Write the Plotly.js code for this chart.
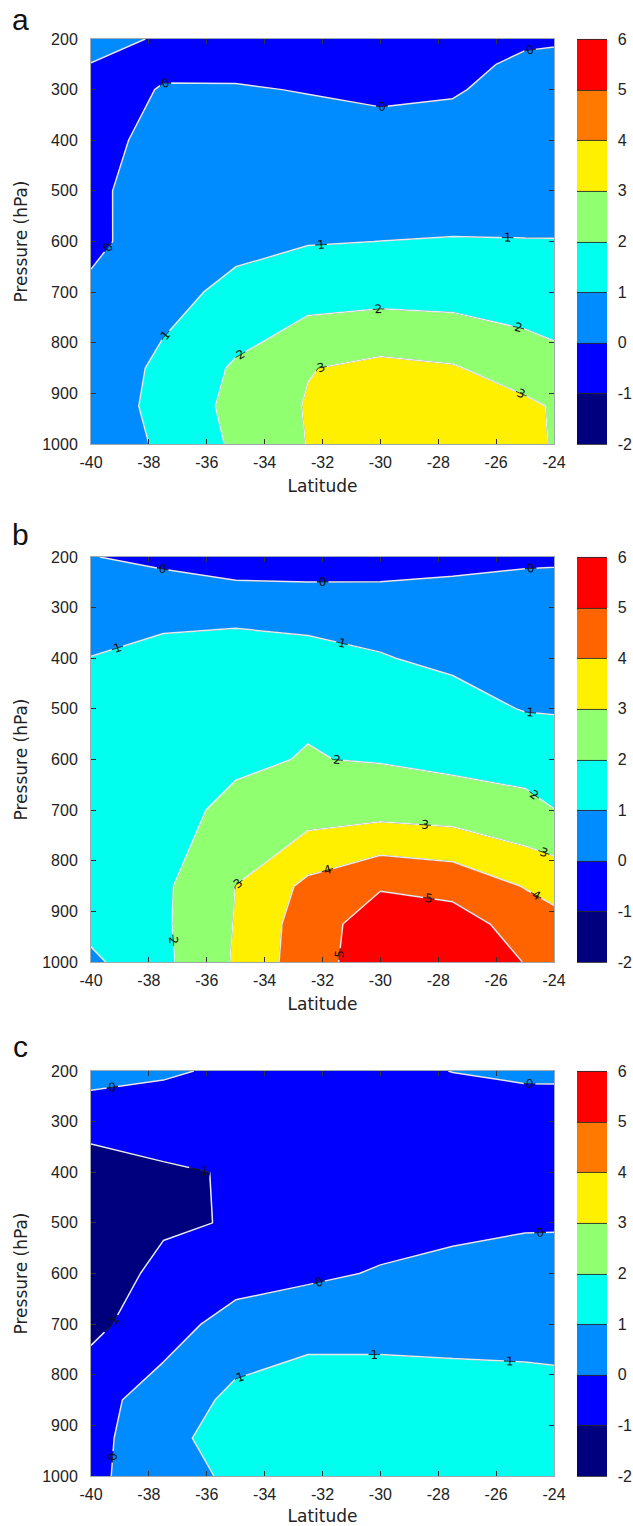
<!DOCTYPE html>
<html><head><meta charset="utf-8">
<script src="https://cdn.plot.ly/plotly-3.0.1.min.js"></script>
<style>html,body{margin:0;padding:0;background:#fff}#chart{width:633px;height:1526px}</style>
</head><body><div id="chart"></div><script>
// grid
const latitude = [-40, -37.5, -35, -32.5, -30, -27.5, -25, -22.5];
const pressure = [200, 250, 300, 400, 500, 600, 700, 850, 925, 1000];

// panel a values (rows = pressure, columns = latitude)
const panelA = [
  [0.3, -0.1, -0.5, -0.6, -0.7, -0.8, -0.227, -0.05],
  [-0.02, -0.117, -0.25, -0.4, -0.5, -0.4, 0.267, 0.5],
  [-0.3, 0.041, 0.08, -0.045, -0.3, -0.1, 0.4, 0.5],
  [-0.4, 0.37, 0.5, 0.455, 0.58, 0.456, 0.5, 0.6],
  [-0.2, 0.47, 0.65, 0.7, 0.6, 0.6, 0.6, 0.65],
  [-0.3, 0.7, 0.8, 0.95, 1.005, 1.044, 1.03, 1.02],
  [0.25, 0.75, 1.2, 1.575, 1.649, 1.608, 1.5, 1.3],
  [0.5, 1.167, 2.13, 2.96, 3.244, 3.078, 2.527, 2.1],
  [0.6, 1.206, 2.31, 3.067, 3.6, 3.5, 3.184, 2.527],
  [0.6, 1.1, 2.17, 3.03, 3.6, 3.4, 3.15, 2.68]
];
// panel b values
const panelB = [
  [0.05, -0.367, -0.5, -0.6, -0.6, -0.5, -0.2, -0.15],
  [0.3, 0.398, 0.043, 0.01, 0.012, 0.158, 0.235, 0.3],
  [0.5, 0.7, 0.8, 0.7, 0.6, 0.5, 0.45, 0.5],
  [1.02, 1.288, 1.288, 1.245, 1.055, 0.8, 0.7, 0.7],
  [1.2, 1.5, 1.6, 1.933, 1.4, 1.388, 0.947, 0.85],
  [1.3, 1.7, 1.903, 2.03, 1.943, 1.765, 1.8, 1.6],
  [1.35, 1.8, 2.14, 2.55, 2.652, 2.522, 2.15, 1.8],
  [1.4, 1.837, 3.01, 4.236, 4.92, 4.696, 3.95, 3.3],
  [1.3, 1.857, 3.048, 4.535, 5.5, 5.43, 4.6, 3.9],
  [0.8, 1.79, 3.106, 4.596, 5.55, 5.5, 4.98, 4.3]
];
// panel c values
const panelC = [
  [0.25, 0.15, -0.207, -0.5, -0.4, 0.0255, 0.3, 0.3],
  [-0.08, -0.267, -0.5, -0.6, -0.6, -0.4, -0.3, -0.25],
  [-0.7, -0.624, -0.8, -0.7, -0.7, -0.7, -0.5, -0.5],
  [-1.382, -1.1, -0.944, -0.8, -0.7, -0.6, -0.4, -0.35],
  [-1.5, -1.1, -0.953, -0.7, -0.4, -0.3, -0.1, -0.08],
  [-1.4, -0.814, -0.3, -0.2, 0.082, 0.352, 0.4, 0.4],
  [-1.3, -0.3, 0.277, 0.709, 0.7, 0.7, 0.7, 0.7],
  [-0.229, 0.3, 1.281, 1.4365, 1.45, 1.362, 1.3, 1.2],
  [-0.2, 0.425, 1.86, 1.7, 1.7, 1.5, 1.4, 1.3],
  [-0.15, 0.386, 1.263, 1.6, 1.7, 1.5, 1.4, 1.3]
];
const colorTicks = [-2, -1, 0, 1, 2, 3, 4, 5, 6];
const latTicks = [-40, -38, -36, -34, -32, -30, -28, -26, -24];
const presTicks = [200, 300, 400, 500, 600, 700, 800, 900, 1000];
const panelLetters = ['a', 'b', 'c'];

// one colour per 1-unit band from -2 to 6
function scale(orange) {
  const cols = ['#00007f', '#0000ff', '#008cff', '#00ffee', '#90ff70', '#fff000', orange, '#ff0000'];
  const out = [];
  cols.forEach((c, i) => { out.push([i / 8, c]); out.push([(i + 1) / 8 - 1e-6, c]); });
  out[out.length - 1][0] = 1;
  return out;
}

const W = 633, H = 1526;
const xDom = [91 / W, 554 / W];
const panelsPx = [[39, 444], [557, 962], [1071, 1476]];
const yDoms = panelsPx.map(p => [(H - p[1]) / H, (H - p[0]) / H]);

const tickFont = {family: 'Liberation Sans, Arial, sans-serif', size: 16, color: '#222'};
const titleFont = {family: 'DejaVu Sans, sans-serif', size: 17, color: '#222'};

function fillTrace(z, k, orange) {
  const sfx = k === 0 ? '' : String(k + 1);
  const p = panelsPx[k];
  return {
    type: 'contour', x: latitude, y: pressure, z: z,
    xaxis: 'x' + sfx, yaxis: 'y' + sfx,
    autocontour: false, zmin: -2, zmax: 6,
    contours: {start: -2, end: 6, size: 1, coloring: 'fill', showlabels: false},
    line: {color: '#2a2a2a', width: 0.9, smoothing: 0},
    colorscale: scale(orange),
    hoverinfo: 'skip',
    colorbar: {
      x: 577 / W, xanchor: 'left', xpad: 0, ypad: 0,
      y: 1 - (p[0] + p[1]) / 2 / H, yanchor: 'middle',
      len: p[1] - p[0], lenmode: 'pixels', thickness: 30, thicknessmode: 'pixels',
      outlinewidth: 0, tickmode: 'array', tickvals: colorTicks, ticktext: colorTicks.map(String),
      ticks: 'outside', ticklen: 8, tickcolor: 'rgba(0,0,0,0)',
      tickfont: tickFont
    }
  };
}
// line/label overlay; the wide level span only densifies label placement
function lineTrace(z, k) {
  const sfx = k === 0 ? '' : String(k + 1);
  return {
    type: 'contour', x: latitude, y: pressure, z: z,
    xaxis: 'x' + sfx, yaxis: 'y' + sfx,
    autocontour: false, showscale: false,
    contours: {start: -25, end: 35, size: 1, coloring: 'none', showlabels: true,
      labelfont: {family: 'DejaVu Sans, sans-serif', size: 12, color: '#111'}},
    line: {color: 'rgba(238,238,245,0.97)', width: 1.5, smoothing: 0},
    hoverinfo: 'skip'
  };
}

const data = [
  fillTrace(panelA, 0, '#ff7800'), lineTrace(panelA, 0),
  fillTrace(panelB, 1, '#ff6400'), lineTrace(panelB, 1),
  fillTrace(panelC, 2, '#ff7800'), lineTrace(panelC, 2)
];

const layout = {
  width: W, height: H, margin: {l: 0, r: 0, t: 0, b: 0},
  paper_bgcolor: '#fff', plot_bgcolor: '#fff', showlegend: false,
  annotations: []
};
for (let k = 0; k < 3; k++) {
  const sfx = k === 0 ? '' : String(k + 1);
  layout['xaxis' + sfx] = {
    domain: xDom, anchor: 'y' + sfx, range: [-40, -24], tickmode: 'array',
    tickvals: latTicks, ticktext: latTicks.map(String),
    ticks: 'inside', ticklen: 5, tickcolor: '#333', mirror: 'ticks', showline: true,
    linecolor: '#a0a8b0', linewidth: 1, showgrid: false, zeroline: false,
    tickfont: tickFont, ticklabelstandoff: 4,
    title: {text: 'Latitude', font: titleFont, standoff: 9}
  };
  layout['yaxis' + sfx] = {
    domain: yDoms[k], anchor: 'x' + sfx, range: [1000, 200], tickmode: 'array',
    tickvals: presTicks, ticktext: presTicks.map(String),
    ticks: 'inside', ticklen: 5, tickcolor: '#333', mirror: 'ticks', showline: true,
    linecolor: '#a0a8b0', linewidth: 1, showgrid: false, zeroline: false,
    tickfont: tickFont, ticklabelstandoff: 9,
    title: {text: 'Pressure (hPa)', font: titleFont, standoff: 10}
  };
  layout.annotations.push({
    text: panelLetters[k], xref: 'paper', yref: 'paper', x: 20 / W,
    y: 1 - [19, 535, 1046][k] / H, xanchor: 'center', yanchor: 'middle', showarrow: false,
    font: {family: 'Liberation Sans, Arial, sans-serif', size: 30, color: '#111'}
  });
}

Plotly.newPlot('chart', data, layout, {displayModeBar: false, staticPlot: true});
</script></body></html>
